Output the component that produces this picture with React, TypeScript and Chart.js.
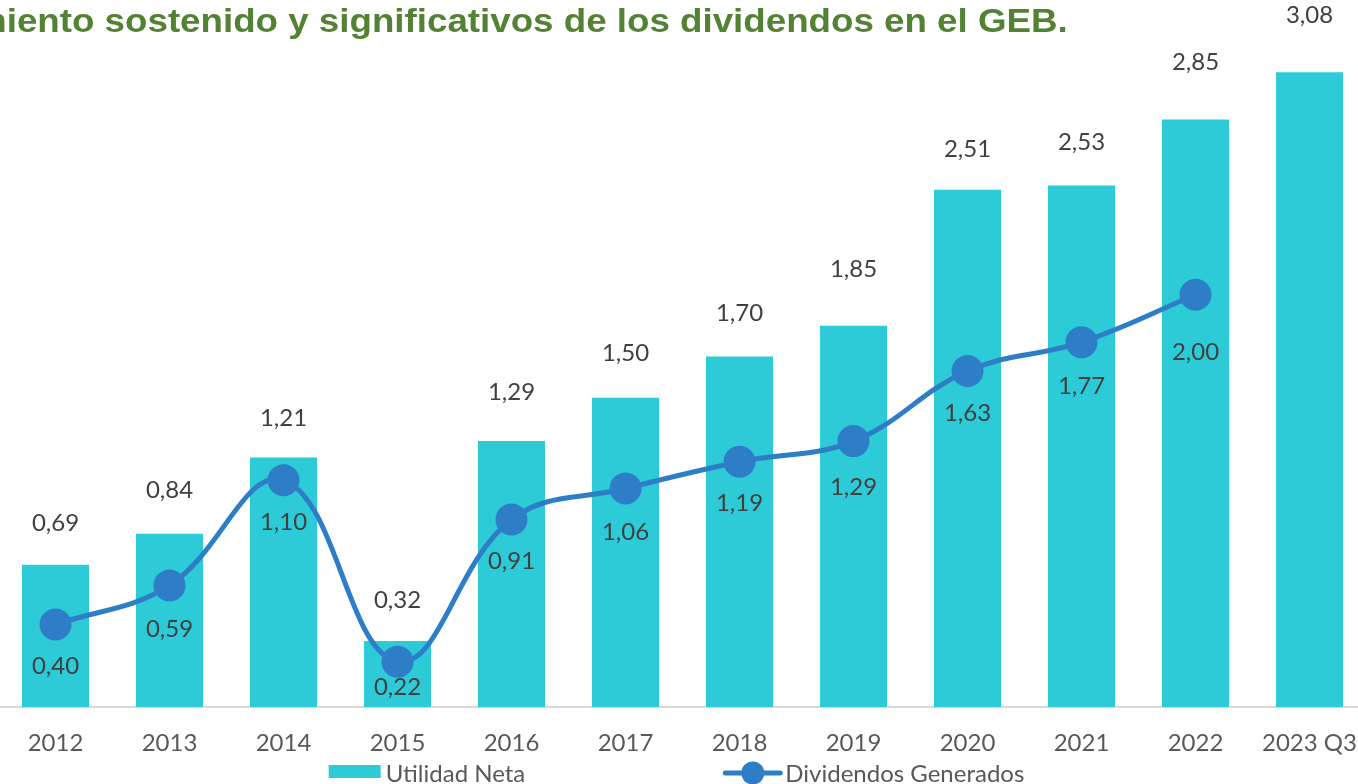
import React, { useEffect, useRef } from "react";
import { Chart, registerables } from "chart.js";

Chart.register(...registerables);

const TITLE = "Crecimiento sostenido y significativos de los dividendos en el GEB.";
const categories = ["2012", "2013", "2014", "2015", "2016", "2017", "2018", "2019", "2020", "2021", "2022", "2023 Q3"];
const utilidadNeta = [0.69, 0.84, 1.21, 0.32, 1.29, 1.5, 1.7, 1.85, 2.51, 2.53, 2.85, 3.08];
const dividendos = [0.4, 0.59, 1.1, 0.22, 0.91, 1.06, 1.19, 1.29, 1.63, 1.77, 2.0, null];
const seriesNames = ["Utilidad Neta", "Dividendos Generados"];

// label placement (px distance from the mark, as placed in the source chart)
const barLabelGap = [42, 44, 39, 41, 49, 45, 43, 56, 40, 43, 57, 57];
const lineLabelGap = [42, 44, 42, 26, 42, 44, 42, 46, 42, 44, 58, 0];

const BAR_COLOR = "#2DCAD8";
const LINE_COLOR = "#2E7EC7";
const FONT = "Lato, 'Open Sans', sans-serif";

const fmt = (v: number) => v.toFixed(2).replace(".", ",");

const valueLabels = {
  id: "valueLabels",
  afterDatasetsDraw(chart: any) {
    const ctx = chart.ctx;
    ctx.save();
    ctx.font = `24px ${FONT}`;
    ctx.fillStyle = "#404040";
    ctx.textAlign = "center";
    ctx.textBaseline = "middle";
    chart.data.datasets.forEach((ds: any, i: number) => {
      const meta = chart.getDatasetMeta(i);
      meta.data.forEach((el: any, j: number) => {
        const v = ds.data[j];
        if (v == null) return;
        const y = meta.type === "bar" ? el.y - barLabelGap[j] : el.y + lineLabelGap[j];
        ctx.fillText(fmt(v), el.x, y);
      });
    });
    ctx.restore();
  },
};

const customLegend = {
  id: "customLegend",
  afterDraw(chart: any) {
    const ctx = chart.ctx;
    const area = chart.chartArea;
    const all = chart.data.datasets;
    const barDs = all.find((d: any) => d.type === "bar");
    const lineDs = all.find((d: any) => d.type === "line");
    ctx.save();
    ctx.font = `24px ${FONT}`;
    const w1 = ctx.measureText(barDs.label).width;
    const w2 = ctx.measureText(lineDs.label).width;
    const boxW = 52, lineW = 55, gap = 5, spacing = 200;
    const total = boxW + gap + w1 + spacing + lineW + gap + w2;
    const center = (area.left + area.right) / 2 - 6;
    const base = area.bottom + 75;
    let x = center - total / 2;
    ctx.fillStyle = barDs.backgroundColor;
    ctx.fillRect(x, base - 17, boxW, 13);
    ctx.fillStyle = "#595959";
    ctx.textBaseline = "alphabetic";
    ctx.textAlign = "left";
    ctx.fillText(barDs.label, x + boxW + gap, base);
    x = x + boxW + gap + w1 + spacing;
    ctx.strokeStyle = lineDs.borderColor;
    ctx.lineWidth = 5;
    ctx.lineCap = "round";
    ctx.beginPath();
    ctx.moveTo(x, base - 9);
    ctx.lineTo(x + lineW, base - 9);
    ctx.stroke();
    ctx.fillStyle = lineDs.borderColor;
    ctx.beginPath();
    ctx.arc(x + lineW / 2, base - 9, 11.5, 0, Math.PI * 2);
    ctx.fill();
    ctx.fillStyle = "#595959";
    ctx.fillText(lineDs.label, x + lineW + gap, base);
    ctx.restore();
  },
};

export default function App() {
  const ref = useRef<HTMLCanvasElement>(null);
  useEffect(() => {
    if (!ref.current) return;
    Chart.defaults.font.family = FONT;
    const chart = new Chart(ref.current, {
      type: "bar",
      data: {
        labels: categories,
        datasets: [
          {
            type: "line",
            label: seriesNames[1],
            data: dividendos as any,
            borderColor: LINE_COLOR,
            backgroundColor: LINE_COLOR,
            borderWidth: 5,
            pointRadius: 16,
            pointBackgroundColor: LINE_COLOR,
            pointBorderWidth: 0,
            tension: 0.4,
            order: 0,
          } as any,
          {
            type: "bar",
            label: seriesNames[0],
            data: utilidadNeta,
            backgroundColor: BAR_COLOR,
            barPercentage: 0.588,
            categoryPercentage: 1,
            order: 1,
          },
        ],
      },
      options: {
        responsive: false,
        maintainAspectRatio: false,
        animation: false,
        layout: { autoPadding: false, padding: { left: 8.5, right: 13.5, top: 0, bottom: 5 } },
        plugins: {
          legend: { display: false },
          tooltip: { enabled: false },
          title: { display: false },
        },
        scales: {
          x: {
            grid: { display: false, drawTicks: false },
            border: { display: true, color: "#D9D9D9", width: 2 },
            ticks: {
              color: "#595959",
              font: { size: 24, family: FONT },
              padding: 21.6,
              maxRotation: 0,
              autoSkip: false,
            },
          },
          y: {
            display: false,
            min: 0,
            max: 3.43,
          },
        },
      },
      plugins: [valueLabels, customLegend],
    });
    return () => chart.destroy();
  }, []);

  return (
    <div style={{ position: "fixed", left: 0, top: 0, width: 1358, height: 784, overflow: "hidden", background: "#fff" }}>
      <canvas
        ref={ref}
        width={1390}
        height={784}
        style={{ position: "absolute", left: -10, top: 0, width: 1390, height: 784 }}
      />
      <div
        style={{
          position: "absolute",
          right: 290,
          top: 3,
          whiteSpace: "nowrap",
          fontFamily: "'Liberation Sans', Arial, sans-serif",
          fontWeight: "bold",
          fontSize: 34,
          lineHeight: "34px",
          color: "#548235",
          transform: "scaleX(1.08)",
          transformOrigin: "right center",
        }}
      >
        {TITLE}
      </div>
    </div>
  );
}
